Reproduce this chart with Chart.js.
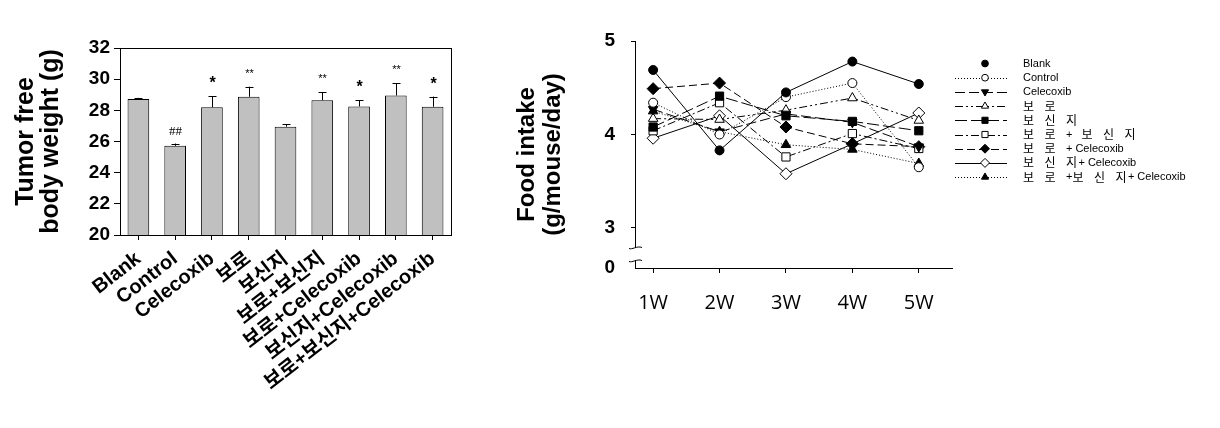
<!DOCTYPE html>
<html>
<head>
<meta charset="utf-8">
<script src="https://cdn.jsdelivr.net/npm/chart.js@4.4.1/dist/chart.umd.min.js"></script>
<style>
  html, body { margin: 0; padding: 0; background: #fff; }
  body { width: 1220px; height: 428px; position: relative; overflow: hidden; }
  #left { position: absolute; left: 0; top: 0; }
  #right { position: absolute; left: 490px; top: 0; }
</style>
</head>
<body>
<canvas id="left" width="480" height="428"></canvas>
<canvas id="right" width="730" height="428"></canvas>
<script>
// ---------- Left chart data ----------
const groups = ['Blank', 'Control', 'Celecoxib', '보로', '보신지', '보로+보신지', '보로+Celecoxib', '보신지+Celecoxib', '보로+보신지+Celecoxib'];
const bodyWeight = [28.72, 25.72, 28.20, 28.87, 26.95, 28.65, 28.25, 28.95, 28.23];
const bodyWeightErr = [0.08, 0.15, 0.70, 0.65, 0.15, 0.50, 0.40, 0.80, 0.65];
const significance = ['', '##', '*', '**', '', '**', '*', '**', '*'];
const weightTicks = [20, 22, 24, 26, 28, 30, 32];

// ---------- Right chart data ----------
const weeks = ['1W', '2W', '3W', '4W', '5W'];
const legendLabels = ['Blank', 'Control', 'Celecoxib', '보 로', '보 신 지', '보 로 + 보 신 지', '보 로 + Celecoxib', '보 신 지+ Celecoxib', '보 로 +보 신 지+ Celecoxib'];
const blank        = [4.69, 3.83, 4.45, 4.78, 4.54];
const control      = [4.34, 4.00, 4.40, 4.55, 3.65];
const celecoxib    = [4.27, 4.03, 4.22, 4.13, 3.87];
const boro         = [4.17, 4.16, 4.26, 4.39, 4.15];
const bosinji      = [4.08, 4.41, 4.20, 4.14, 4.04];
const boroBosinji  = [4.04, 4.34, 3.76, 4.01, 3.85];
const boroCel      = [4.49, 4.55, 4.08, 3.90, 3.87];
const bosinjiCel   = [3.96, 4.20, 3.58, 3.90, 4.23];
const allCel       = [4.25, 4.03, 3.89, 3.84, 3.69];
const intakeSeries = [blank, control, celecoxib, boro, bosinji, boroBosinji, boroCel, bosinjiCel, allCel];
const intakeTicks = [3, 4, 5];
const brokenZeroLabel = '0';

// ---------- Styles ----------
const seriesStyles = [
  { point: 'circle',   rot: 0,   r: 4.5, fill: '#000', dash: [] },
  { point: 'circle',   rot: 0,   r: 4.5, fill: '#fff', dash: [1, 2] },
  { point: 'triangle', rot: 180, r: 5.5, fill: '#000', dash: [10, 4] },
  { point: 'triangle', rot: 0,   r: 5.5, fill: '#fff', dash: [8, 3, 2, 3, 2, 3] },
  { point: 'rect',     rot: 0,   r: 5.8, fill: '#000', dash: [12, 4] },
  { point: 'rect',     rot: 0,   r: 5.8, fill: '#fff', dash: [8, 3, 2, 3] },
  { point: 'rectRot',  rot: 0,   r: 6,   fill: '#000', dash: [8, 4] },
  { point: 'rectRot',  rot: 0,   r: 6,   fill: '#fff', dash: [] },
  { point: 'triangle', rot: 0,   r: 5.5, fill: '#000', dash: [1, 2] }
];
const latinFont = "Arial, 'Liberation Sans', 'Noto Sans CJK KR', sans-serif";
const hangulFont = "'Noto Sans CJK KR', sans-serif";

Chart.defaults.font.family = latinFont;
Chart.defaults.color = '#000';
Chart.defaults.animation = false;

// ---------- Left chart plugins ----------
const frameAndErrors = {
  id: 'frameAndErrors',
  afterDatasetsDraw(chart) {
    const { ctx, chartArea: a, scales: { y } } = chart;
    const meta = chart.getDatasetMeta(0);
    ctx.save();
    ctx.strokeStyle = '#000';
    ctx.lineWidth = 1;
    ctx.strokeRect(a.left + 0.5, a.top + 0.5, a.right - a.left, a.bottom - a.top);
    meta.data.forEach((bar, i) => {
      const x = Math.round(bar.x) + 0.5;
      const yTop = y.getPixelForValue(bodyWeight[i] + bodyWeightErr[i]);
      const yBar = y.getPixelForValue(bodyWeight[i]);
      ctx.beginPath();
      ctx.moveTo(x, yBar);
      ctx.lineTo(x, yTop);
      ctx.moveTo(x - 4, Math.round(yTop) + 0.5);
      ctx.lineTo(x + 4, Math.round(yTop) + 0.5);
      ctx.stroke();
      const s = significance[i];
      if (s) {
        ctx.fillStyle = '#000';
        ctx.textAlign = 'center';
        ctx.textBaseline = 'alphabetic';
        if (s === '*') { ctx.font = "bold 16px " + latinFont; ctx.fillText(s, x, yTop - 8); }
        else if (s === '**') { ctx.font = "11px " + latinFont; ctx.fillText(s, x, yTop - 10); }
        else { ctx.font = "13px 'Times New Roman', 'Liberation Serif', serif"; ctx.fillText(s, x, yTop - 9); }
      }
    });
    ctx.restore();
  }
};

new Chart(document.getElementById('left'), {
  type: 'bar',
  data: {
    labels: groups,
    datasets: [{
      data: bodyWeight,
      backgroundColor: '#c0c0c0',
      borderColor: '#000',
      borderWidth: 1,
      borderSkipped: 'bottom',
      barPercentage: 0.62,
      categoryPercentage: 0.95
    }]
  },
  options: {
    responsive: false,
    devicePixelRatio: 1,
    layout: { padding: { top: 48, right: 29, left: 0, bottom: 0 } },
    plugins: { legend: { display: false }, tooltip: { enabled: false } },
    scales: {
      x: {
        grid: { drawOnChartArea: false, color: '#000', tickLength: 5, offset: false },
        border: { display: true, color: '#000' },
        ticks: { autoSkip: false, minRotation: 38, maxRotation: 38, padding: 7,
                 font: { size: 20, weight: 'bold', family: latinFont } },
        afterFit(s) { s.height = 193; }
      },
      y: {
        min: 20, max: 32,
        afterBuildTicks(s) { s.ticks = weightTicks.map(v => ({ value: v })); },
        grid: { drawOnChartArea: false, color: '#000', tickLength: 6 },
        border: { display: true, color: '#000' },
        ticks: { padding: 4, font: { size: 19, weight: 'bold', family: latinFont } },
        title: { display: true, text: ['Tumor free', 'body weight (g)'],
                 padding: { top: 14, bottom: 0 },
                 font: { size: 25, weight: 'bold', family: latinFont, lineHeight: 1.0 } },
        afterFit(s) { s.width = 120; }
      }
    }
  },
  plugins: [frameAndErrors]
});

// ---------- Right chart ----------
const yMin = 2.572;
function drawMixedText(ctx, text, x, y) {
  // Hangul in a CJK face with wide spaces (as in the original legend), the rest in Arial
  const isH = ch => /[\uac00-\ud7a3]/.test(ch);
  let cx = x;
  for (let i = 0; i < text.length; i++) {
    const ch = text[i];
    if (ch === ' ') {
      const nearH = (i > 0 && isH(text[i - 1])) || (i + 1 < text.length && isH(text[i + 1]));
      cx += nearH ? 9 : 3;
      continue;
    }
    if (isH(ch)) {
      ctx.font = "12px " + hangulFont;
      ctx.fillText(ch, cx, y);
      cx += 12.5;
    } else {
      ctx.font = "11px " + latinFont;
      ctx.fillText(ch, cx, y);
      cx += ctx.measureText(ch).width;
    }
  }
}
const legendPlugin = {
  id: 'sideLegend',
  afterDraw(chart) {
    const { ctx } = chart;
    ctx.save();
    chart.data.datasets.forEach((ds, i) => {
      const st = seriesStyles[i];
      const y = 63.5 + i * 14.2;
      ctx.strokeStyle = '#000';
      ctx.lineWidth = 1;
      if (i !== 0) {
        ctx.setLineDash(st.dash);
        ctx.beginPath();
        ctx.moveTo(465, Math.round(y) + 0.5);
        ctx.lineTo(517, Math.round(y) + 0.5);
        ctx.stroke();
        ctx.setLineDash([]);
      }
      ctx.fillStyle = st.fill;
      Chart.helpers.drawPoint(ctx, { pointStyle: st.point, rotation: st.rot, radius: st.r * 0.75, borderWidth: 1 }, 495, y);
      ctx.fillStyle = '#000';
      ctx.textAlign = 'left';
      ctx.textBaseline = 'middle';
      drawMixedText(ctx, ds.label, 533, y);
    });
    ctx.restore();
  }
};
const axisBreak = {
  id: 'axisBreak',
  afterDraw(chart) {
    const { ctx, chartArea: a, scales: { y } } = chart;
    const x = a.left;
    const yUp = Math.round(y.getPixelForValue(2.795));
    const yLo = Math.round(y.getPixelForValue(2.655));
    ctx.save();
    ctx.fillStyle = '#fff';
    ctx.fillRect(x - 2, yUp + 1, 5, yLo - yUp - 1);
    ctx.strokeStyle = '#000';
    ctx.lineWidth = 1;
    [yUp, yLo].forEach(yy => {
      ctx.beginPath();
      ctx.moveTo(x - 6, yy + 1.5);
      ctx.bezierCurveTo(x - 3, yy + 3, x + 2, yy - 1.5, x + 7, yy + 0.5);
      ctx.stroke();
    });
    ctx.restore();
  }
};

new Chart(document.getElementById('right'), {
  type: 'line',
  data: {
    datasets: intakeSeries.map((vals, i) => ({
      label: legendLabels[i],
      data: vals.map((v, k) => ({ x: k + 1, y: v })),
      borderColor: '#000',
      borderWidth: 1,
      borderDash: seriesStyles[i].dash,
      backgroundColor: seriesStyles[i].fill,
      pointBackgroundColor: seriesStyles[i].fill,
      pointBorderColor: '#000',
      pointBorderWidth: 1,
      pointStyle: seriesStyles[i].point,
      pointRotation: seriesStyles[i].rot,
      pointRadius: seriesStyles[i].r,
      tension: 0,
      fill: false
    }))
  },
  options: {
    responsive: false,
    devicePixelRatio: 1,
    layout: { padding: { top: 41, right: 268, left: 0, bottom: 0 } },
    plugins: { legend: { display: false }, tooltip: { enabled: false } },
    scales: {
      x: {
        type: 'linear', min: 0.727, max: 5.5,
        afterBuildTicks(s) { s.ticks = weeks.map((w, k) => ({ value: k + 1 })); },
        grid: { drawOnChartArea: false, color: '#000', tickLength: 5 },
        border: { display: true, color: '#000' },
        ticks: { padding: 18, callback: v => weeks[v - 1],
                 font: { size: 20, family: "'Open Sans', 'Noto Sans', sans-serif" } },
        afterFit(s) { s.height = 160; }
      },
      y: {
        type: 'linear', min: yMin, max: 5,
        afterBuildTicks(s) { s.ticks = [{ value: yMin }].concat(intakeTicks.map(v => ({ value: v }))); },
        grid: { drawOnChartArea: false, tickLength: 4,
                color: c => (c.tick && c.tick.value === yMin) ? 'rgba(0,0,0,0)' : '#000' },
        border: { display: true, color: '#000' },
        ticks: { padding: 16, callback: v => (v === yMin ? brokenZeroLabel : String(v)),
                 font: { size: 19, weight: 'bold', family: latinFont } },
        title: { display: true, text: ['Food intake', '(g/mouse/day)'],
                 padding: { top: 24, bottom: 0 },
                 font: { size: 24, weight: 'bold', family: latinFont, lineHeight: 1.1 } },
        afterFit(s) { s.width = 145; }
      }
    }
  },
  plugins: [axisBreak, legendPlugin]
});
</script>
</body>
</html>
